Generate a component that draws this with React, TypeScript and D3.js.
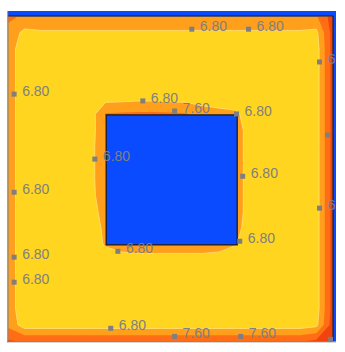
import React from "react";
import * as d3 from "d3";

// field sampled on a 21 x 21 grid, rows go from the top edge (y = 1) down to the bottom edge (y = 0)
const gridRows: number[][] = [
  [7.8, 7.45, 7.4, 7.4, 7.4, 7.4, 7.4, 7.4, 7.4, 7.4, 7.4, 7.4, 7.4, 7.4, 7.4, 7.4, 7.4, 7.4, 7.4, 7.5, 8.8],
  [7.3, 6.6, 6.7, 6.7, 6.7, 6.7, 6.7, 6.7, 6.7, 6.7, 6.7, 6.7, 6.7, 6.7, 6.7, 6.7, 6.7, 6.7, 6.7, 6.6, 8.7],
  [7.2, 6.3, 6.3, 6.3, 6.3, 6.3, 6.3, 6.3, 6.3, 6.3, 6.3, 6.3, 6.3, 6.3, 6.3, 6.3, 6.3, 6.3, 6.3, 6.4, 8.7],
  [7.2, 6.3, 6.3, 6.3, 6.3, 6.3, 6.3, 6.3, 6.3, 6.3, 6.3, 6.3, 6.3, 6.3, 6.3, 6.3, 6.3, 6.3, 6.3, 6.4, 8.7],
  [7.2, 6.3, 6.3, 6.3, 6.3, 6.3, 6.3, 6.3, 6.3, 6.3, 6.3, 6.3, 6.3, 6.3, 6.3, 6.3, 6.3, 6.3, 6.3, 6.4, 8.7],
  [7.2, 6.3, 6.3, 6.3, 6.3, 6.35, 6.45, 6.5, 6.55, 6.55, 6.5, 6.45, 6.4, 6.35, 6.3, 6.3, 6.3, 6.3, 6.3, 6.4, 8.7],
  [7.2, 6.3, 6.3, 6.3, 6.3, 6.3, 7.65, 7.7, 7.75, 7.75, 7.7, 7.65, 7.2, 7.05, 6.95, 6.4, 6.3, 6.3, 6.3, 6.4, 8.7],
  [7.2, 6.3, 6.3, 6.3, 6.3, 6.5, 7.3, 7.5, 7.5, 7.5, 7.5, 7.5, 7.5, 7.5, 7.2, 6.4, 6.3, 6.3, 6.3, 6.4, 8.7],
  [7.2, 6.3, 6.3, 6.3, 6.3, 6.5, 7.4, 7.5, 7.5, 7.5, 7.5, 7.5, 7.5, 7.5, 7.2, 6.4, 6.3, 6.3, 6.3, 6.4, 8.7],
  [7.2, 6.3, 6.3, 6.3, 6.3, 6.5, 7.4, 7.5, 7.5, 7.5, 7.5, 7.5, 7.5, 7.5, 7.2, 6.4, 6.3, 6.3, 6.3, 6.4, 8.7],
  [7.2, 6.3, 6.3, 6.3, 6.3, 6.5, 7.4, 7.5, 7.5, 7.5, 7.5, 7.5, 7.5, 7.5, 7.2, 6.4, 6.3, 6.3, 6.3, 6.4, 8.7],
  [7.2, 6.3, 6.3, 6.3, 6.3, 6.5, 7.3, 7.5, 7.5, 7.5, 7.5, 7.5, 7.5, 7.5, 7.2, 6.4, 6.3, 6.3, 6.3, 6.4, 8.7],
  [7.2, 6.3, 6.3, 6.3, 6.3, 6.4, 7.15, 7.5, 7.5, 7.5, 7.5, 7.5, 7.5, 7.5, 7.2, 6.4, 6.3, 6.3, 6.3, 6.4, 8.7],
  [7.2, 6.3, 6.3, 6.3, 6.3, 6.3, 7.0, 7.5, 7.5, 7.5, 7.5, 7.5, 7.5, 7.5, 7.0, 6.5, 6.3, 6.3, 6.3, 6.4, 8.7],
  [7.2, 6.3, 6.3, 6.3, 6.3, 6.3, 6.9, 7.2, 7.3, 7.3, 7.3, 7.3, 7.3, 7.2, 6.85, 6.4, 6.3, 6.3, 6.3, 6.4, 8.7],
  [7.2, 6.3, 6.3, 6.3, 6.3, 6.3, 6.35, 6.4, 6.45, 6.45, 6.45, 6.45, 6.45, 6.4, 6.4, 6.3, 6.3, 6.3, 6.3, 6.4, 8.7],
  [7.2, 6.3, 6.3, 6.3, 6.3, 6.3, 6.3, 6.3, 6.3, 6.3, 6.3, 6.3, 6.3, 6.3, 6.3, 6.3, 6.3, 6.3, 6.3, 6.4, 8.7],
  [7.2, 6.3, 6.3, 6.3, 6.3, 6.3, 6.3, 6.3, 6.3, 6.3, 6.3, 6.3, 6.3, 6.3, 6.3, 6.3, 6.3, 6.3, 6.3, 6.4, 8.7],
  [7.2, 6.3, 6.3, 6.3, 6.3, 6.3, 6.3, 6.3, 6.3, 6.3, 6.3, 6.3, 6.3, 6.3, 6.3, 6.3, 6.3, 6.3, 6.3, 6.4, 8.7],
  [7.4, 6.4, 6.4, 6.4, 6.4, 6.4, 6.4, 6.4, 6.4, 6.4, 6.4, 6.4, 6.4, 6.4, 6.4, 6.4, 6.4, 6.4, 6.4, 6.6, 8.8],
  [8.5, 8.3, 8.3, 8.3, 8.3, 8.3, 8.3, 8.3, 8.3, 8.3, 8.3, 8.3, 8.3, 8.3, 8.3, 8.3, 8.3, 8.3, 8.3, 8.6, 9.6],
];

const levels = [6.8, 7.6, 8.4];
const bandColors = ["#ff9f1c", "#ff6e15", "#f4420f"];

// the cut-out in the middle
const holeX = [0.302, 0.706];
const holeY = [0.297, 0.697];

// labelled points on the contour lines
const markX = [0.566, 0.741, 0.96, 0.018, 0.415, 0.513, 0.704, 0.267, 0.018, 0.723, 0.985, 0.96, 0.714, 0.338, 0.018, 0.018, 0.316, 0.513, 0.717, 0.994];
const markY = [0.961, 0.961, 0.86, 0.761, 0.74, 0.709, 0.7, 0.561, 0.459, 0.508, 0.635, 0.41, 0.308, 0.277, 0.259, 0.182, 0.04, 0.015, 0.015, 0.006];
const markLabel = ["6.80", "6.80", "6.80", "6.80", "6.80", "7.60", "6.80", "6.80", "6.80", "6.80", "7.60", "6.80", "6.80", "6.80", "6.80", "6.80", "6.80", "7.60", "7.60", "8.40"];

const frame = { left: 8, right: 336, top: 11, bottom: 341.3 };
const area = { left: 8.3, right: 332.5, top: 16.5, bottom: 341.3 };

export default function App() {
  const nx = gridRows[0].length;
  const ny = gridRows.length;
  const x = d3.scaleLinear().domain([0, 1]).range([area.left, area.right]);
  const y = d3.scaleLinear().domain([0, 1]).range([area.bottom, area.top]);

  const bands = d3.contours().size([nx, ny]).thresholds(levels)(gridRows.flat());
  const proj = d3.geoTransform({
    point: function (px: number, py: number) {
      this.stream.point(x((px - 0.5) / (nx - 1)), y(1 - (py - 0.5) / (ny - 1)));
    },
  });
  const path = d3.geoPath(proj);

  return (
    <svg width={345} height={352} style={{ position: "absolute", left: 0, top: 0 }}>
      <defs>
        <clipPath id="fieldClip">
          <rect x={area.left} y={area.top} width={area.right - area.left} height={area.bottom - area.top} />
        </clipPath>
        <clipPath id="labelClip">
          <rect x={frame.left} y={frame.top} width={335 - frame.left} height={frame.bottom - frame.top + 5} />
        </clipPath>
      </defs>
      <rect x={frame.left} y={frame.top} width={frame.right - frame.left} height={frame.bottom - frame.top} fill="#0a4bff" />
      <g clipPath="url(#fieldClip)">
        <rect x={area.left} y={area.top} width={area.right - area.left} height={area.bottom - area.top} fill="#ffd520" />
        {bands.map((b, i) => (
          <path
            key={i}
            d={path(b as any) || ""}
            fill={bandColors[i]}
            stroke={i === 0 ? "#ffe27a" : "none"}
            strokeWidth={0.8}
          />
        ))}
      </g>
      <line x1={area.left} x2={area.right + 0.5} y1={area.top - 0.5} y2={area.top - 0.5} stroke="#1b1b2e" strokeWidth={1.2} />
      <line x1={area.right + 0.5} x2={area.right + 0.5} y1={area.top - 0.5} y2={area.bottom} stroke="#1b1b2e" strokeWidth={1.2} />
      <rect
        x={x(holeX[0])}
        y={y(holeY[1])}
        width={x(holeX[1]) - x(holeX[0])}
        height={y(holeY[0]) - y(holeY[1])}
        fill="#0a4bff"
        stroke="#1a1a22"
        strokeWidth={1.3}
      />
      <line x1={7.8} x2={7.8} y1={frame.top} y2={342.3} stroke="#777" strokeWidth={1} />
      <line x1={7.3} x2={frame.right} y1={341.8} y2={341.8} stroke="#777" strokeWidth={1} />
      <g clipPath="url(#labelClip)" fontFamily="'Liberation Sans', Arial, sans-serif" fontSize={14}>
        {markX.map((mx, i) => (
          <g key={i}>
            <rect x={x(mx) - 2.5} y={y(markY[i]) - 2.5} width={5} height={5} fill="#7f7f7f" />
            <text x={x(mx) + 8} y={y(markY[i]) + 2} fill="#808080">
              {markLabel[i]}
            </text>
          </g>
        ))}
      </g>
    </svg>
  );
}
